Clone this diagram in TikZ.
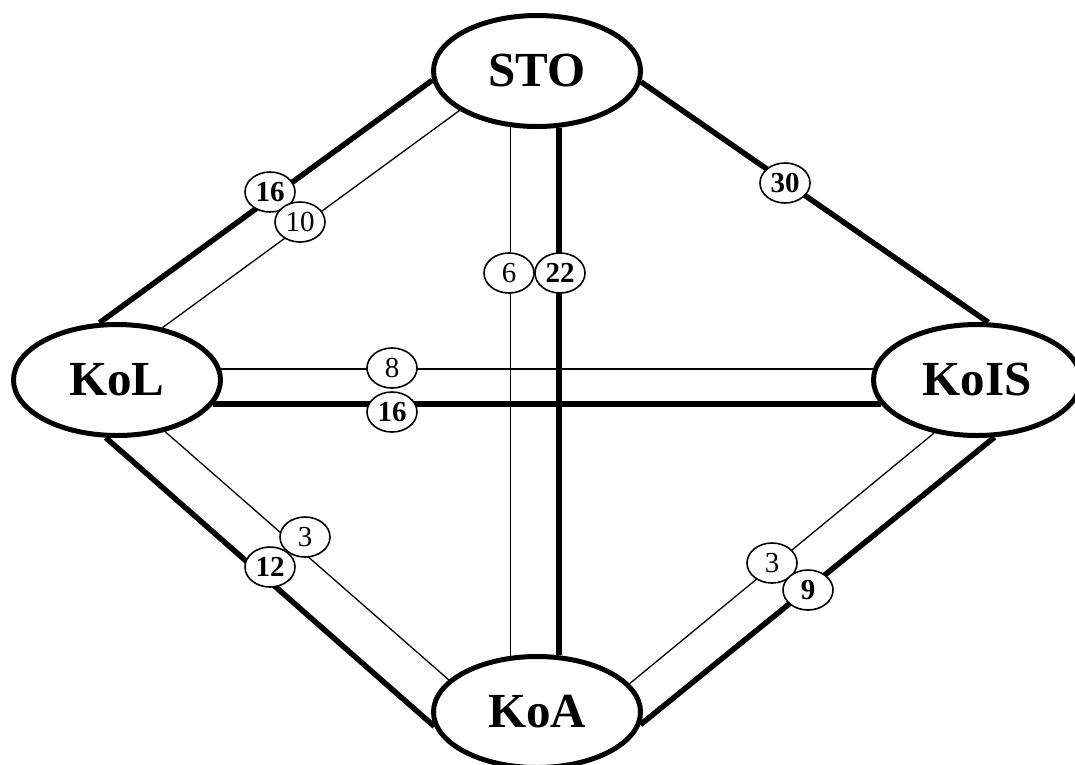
\documentclass[tikz,border=0pt]{standalone}
\usepackage{fontspec}
\setmainfont{Liberation Serif}
\usetikzlibrary{shapes.geometric, backgrounds}

\tikzset{
  unit/.style={ellipse, draw, fill=white, line width=5pt, minimum width=207pt,
    minimum height=111pt, inner sep=0pt, font=\fontsize{49}{56}\selectfont\bfseries},
  heavy/.style={line width=5.5pt},
  light/.style={line width=1.3pt},
  wt/.style={ellipse, draw, fill=white, line width=1.6pt, minimum width=50pt,
    minimum height=40pt, inner sep=0pt, font=\fontsize{29}{32}\selectfont},
  wtb/.style={wt, font=\fontsize{29}{32}\selectfont\bfseries}
}

\begin{document}
\begin{tikzpicture}[x=1pt,y=1pt]
  \useasboundingbox (0,0) rectangle (1075,-764);

  % the four units
  \node[unit] (STO)  at (537,-71)  {STO};
  \node[unit] (KoL)  at (117,-380) {KoL};
  \node[unit] (KoIS) at (977,-380) {KoIS};
  \node[unit] (KoA)  at (537,-712) {KoA};

  % links, thin and thick side by side
  \begin{scope}[on background layer]
    \draw[heavy] (STO.185) -- (KoL.107);
    \draw[light] (STO.207) -- (KoL.49);
    \draw[heavy] (STO.354) -- (KoIS.79);
    \draw[light] (STO.245) -- (KoA.115);
    \draw[heavy] (STO.291) -- (KoA.69);
    \draw[light] (KoL.6)   -- (KoIS.174);
    \draw[heavy] (KoL.346) -- (KoIS.194);
    \draw[light] (KoL.313) -- (KoA.160);
    \draw[heavy] (KoL.259) -- (KoA.188);
    \draw[light] (KoIS.231) -- (KoA.17);
    \draw[heavy] (KoIS.287) -- (KoA.353);
  \end{scope}

  % weights on the links
  \node[wtb] (w1)  at (270,-192) {16};
  \node[wt]  (w2)  at (300,-222) {10};
  \node[wtb] (w3)  at (785,-183) {30};
  \node[wt]  (w4)  at (509,-273) {6};
  \node[wtb] (w5)  at (560,-273) {22};
  \node[wt]  (w6)  at (392,-368) {8};
  \node[wtb] (w7)  at (392,-412) {16};
  \node[wt]  (w8)  at (305,-537) {3};
  \node[wtb] (w9)  at (270,-567) {12};
  \node[wt]  (w10) at (772,-563) {3};
  \node[wtb] (w11) at (808,-590) {9};
\end{tikzpicture}
\end{document}
